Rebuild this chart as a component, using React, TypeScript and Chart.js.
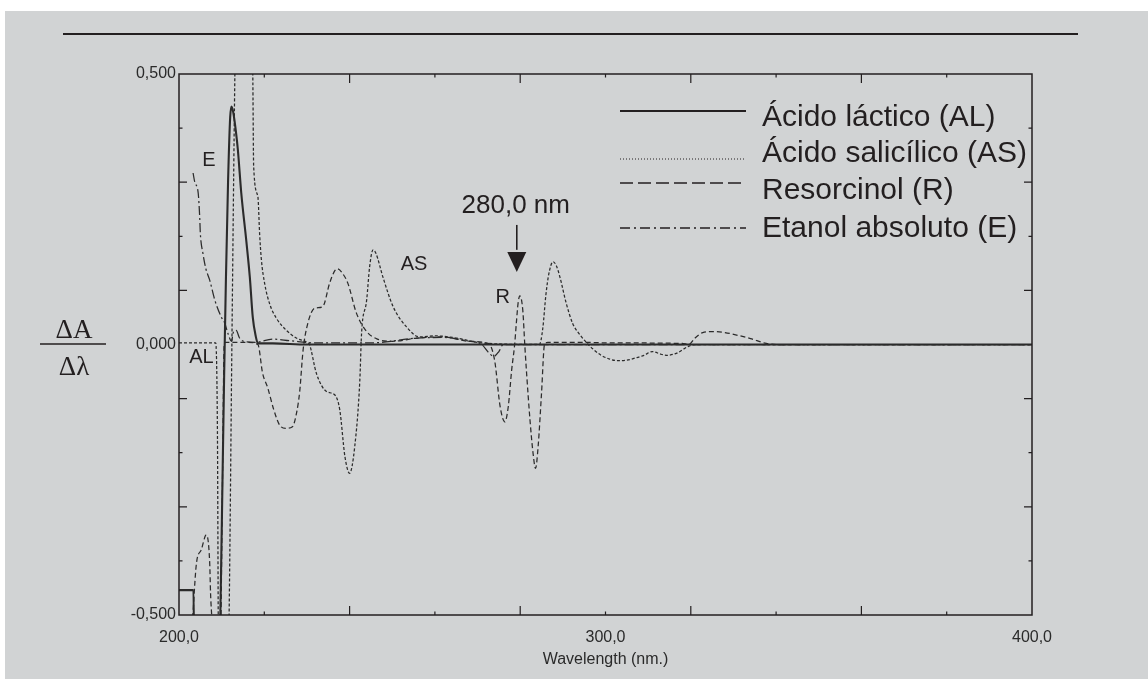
import { useEffect, useRef } from 'react';
import { Chart, registerables } from 'chart.js';

Chart.register(...registerables);

const INK = '#231f20';
const TEXT = '#2a2a2a';
const CURVE = '#2b2b2b';

// Ácido láctico (AL)
const alNm = [200, 203.4, 203.6, 209.4, 209.8, 210.2, 210.6, 211.0, 211.5, 212.0, 212.3, 212.7, 213.4, 213.8, 214.6, 215.8, 216.6, 217.3, 218.0, 218.5, 222, 230, 260, 300, 340, 400];
const alVal = [-0.454, -0.454, -0.6, -0.6, -0.45, -0.25, -0.05, 0.12, 0.3, 0.42, 0.44, 0.43, 0.39, 0.36, 0.28, 0.19, 0.125, 0.05, 0.015, 0.002, 0.002, 0, 0, 0, 0, 0];

// Ácido salicílico (AS)
const asNm = [200, 208.6, 209.0, 209.3, 211.5, 211.75, 212.4, 213.1, 213.3, 217.0, 217.3, 217.5, 218.5, 218.9, 219.3, 220.1, 221.3, 222.8, 225.2, 227.5, 230.0, 230.6, 232.2, 234.6, 236.5, 237.7, 238.9, 240.0, 241.2, 242.4, 242.8, 244.0, 244.7, 245.5, 246.2, 247.8, 250.2, 253.3, 256.4, 260, 265, 270, 275, 284.5, 285.3, 286.0, 286.7, 287.7, 288.5, 289.3, 290.8, 292.3, 294.0, 295.5, 297, 299, 301, 303, 305, 307, 309, 311, 313, 314.3, 316.7, 319.3, 321, 330, 400];
const asVal = [0.003, 0.003, -0.15, -0.6, -0.6, -0.5, 0, 0.5, 0.6, 0.6, 0.5, 0.33, 0.273, 0.205, 0.158, 0.112, 0.074, 0.049, 0.026, 0.012, 0.004, 0, -0.053, -0.087, -0.093, -0.121, -0.207, -0.238, -0.189, -0.066, 0.02, 0.082, 0.144, 0.175, 0.168, 0.125, 0.07, 0.033, 0.014, 0.016, 0.012, 0.004, 0.001, 0, 0.03, 0.09, 0.13, 0.153, 0.145, 0.125, 0.076, 0.039, 0.018, 0.004, -0.008, -0.02, -0.027, -0.03, -0.029, -0.025, -0.02, -0.013, -0.018, -0.02, -0.016, -0.004, 0, 0, 0];

// Resorcinol (R)
const rNm = [203.1, 204.1, 205.2, 206.4, 207.2, 207.4, 207.8, 208.2, 209.6, 210.2, 210.6, 211, 216, 218.5, 219.6, 220.8, 222.2, 223.6, 225.1, 226.6, 227.6, 228.3, 229.1, 230.2, 231.8, 233.7, 235.3, 236.5, 237.2, 238.2, 239.6, 241.6, 244.0, 246.5, 250, 256, 262, 268, 272.5, 274.0, 275.3, 276.4, 277.2, 278.0, 278.7, 279.1, 279.5, 279.9, 280.6, 281.1, 281.5, 282.3, 283.0, 283.6, 284.2, 285.0, 285.7, 286.5, 295, 300, 318, 319.5, 321, 322.8, 325, 328, 331, 334, 337.7, 340, 400];
const rVal = [-0.52, -0.404, -0.38, -0.352, -0.404, -0.46, -0.52, -0.6, -0.6, -0.25, 0, 0.004, 0.004, 0, -0.053, -0.08, -0.12, -0.149, -0.155, -0.152, -0.125, -0.087, -0.01, 0.039, 0.067, 0.07, 0.113, 0.136, 0.14, 0.133, 0.113, 0.058, 0.024, 0.01, 0.006, 0.012, 0.014, 0.006, 0.002, -0.029, -0.115, -0.143, -0.115, -0.047, 0, 0.04, 0.076, 0.09, 0.064, -0.004, -0.053, -0.14, -0.2, -0.229, -0.189, -0.09, 0, 0.004, 0.004, 0.003, 0.002, 0, 0.012, 0.022, 0.024, 0.022, 0.017, 0.011, 0.002, 0, 0];

// Etanol absoluto (E)
const eNm = [203.3, 203.7, 204.5, 204.85, 205.0, 205.6, 206.3, 207.2, 208.4, 209.9, 210.7, 211.5, 212.3, 212.8, 213.4, 214.2, 215.5, 218, 222, 226, 232, 245, 256, 262, 268, 271, 272.5, 273.8, 275, 276, 280, 300, 400];
const eVal = [0.317, 0.3, 0.28, 0.236, 0.206, 0.169, 0.14, 0.119, 0.082, 0.051, 0.04, 0.02, 0.006, 0.024, 0.026, 0.012, 0.005, 0.004, 0.01, 0.007, 0.003, 0.003, 0.012, 0.013, 0.006, 0, -0.014, -0.022, -0.013, 0, 0, 0, 0];

const seriesNames = ['Ácido láctico (AL)', 'Ácido salicílico (AS)', 'Resorcinol (R)', 'Etanol absoluto (E)'];

const xLabelValues = [200, 300, 400];
const yLabelValues = [-0.5, 0, 0.5];
const xTickMarks = [220, 240, 260, 280, 300, 320, 340, 360, 380];
const xLongMarks = [240, 280, 320, 360];
const yTickMarks = [-0.4, -0.3, -0.2, -0.1, 0.1, 0.2, 0.3, 0.4];
const yLongMarks = [-0.3, -0.1, 0.1, 0.3];

const curveLabels = [
  { text: 'E', nm: 207.0, v: 0.34 },
  { text: 'AS', nm: 255.1, v: 0.148 },
  { text: 'R', nm: 275.9, v: 0.087 },
  { text: 'AL', nm: 205.25, v: -0.024 },
];
const markerNm = 279.2;
const markerText = '280,0 nm';

const plotDash = [[], [3, 2], [5, 3], [9, 3, 2, 3]];
const plotWidth = [2.1, 1.25, 1.25, 1.25];
const legendDash = [[], [1, 2], [13, 5], [10, 4, 2, 4]];
const legendLineY = [111, 159, 183, 228];
const legendTextY = [126, 162, 199, 237];

const toPoints = (xs: number[], ys: number[]) => xs.map((x, i) => ({ x, y: ys[i] }));

const decor = {
  id: 'decor',
  afterDatasetsDraw(chart: any) {
    const { ctx, chartArea: a, scales } = chart;
    const x = scales.x;
    const y = scales.y;
    ctx.save();
    ctx.strokeStyle = INK;
    ctx.lineWidth = 1.5;
    ctx.setLineDash([]);
    ctx.strokeRect(a.left, a.top, a.right - a.left, a.bottom - a.top);
    ctx.lineWidth = 1.2;
    ctx.beginPath();
    xTickMarks.forEach((v) => {
      const px = x.getPixelForValue(v);
      const len = xLongMarks.includes(v) ? 9 : 3.5;
      ctx.moveTo(px, a.bottom);
      ctx.lineTo(px, a.bottom - len);
      ctx.moveTo(px, a.top);
      ctx.lineTo(px, a.top + len);
    });
    yTickMarks.forEach((v) => {
      const py = y.getPixelForValue(v);
      const len = yLongMarks.includes(v) ? 8 : 3.5;
      ctx.moveTo(a.left, py);
      ctx.lineTo(a.left + len, py);
      ctx.moveTo(a.right, py);
      ctx.lineTo(a.right - len, py);
    });
    ctx.stroke();

    ctx.fillStyle = INK;
    ctx.font = "20px 'Liberation Sans', Arial, sans-serif";
    ctx.textAlign = 'center';
    ctx.textBaseline = 'middle';
    curveLabels.forEach((l) => {
      ctx.fillText(l.text, x.getPixelForValue(l.nm), y.getPixelForValue(l.v));
    });

    const mx = x.getPixelForValue(markerNm);
    ctx.font = "26px 'Liberation Sans', Arial, sans-serif";
    ctx.textBaseline = 'alphabetic';
    ctx.fillText(markerText, mx - 1, y.getPixelForValue(0.2425));
    ctx.lineWidth = 1.6;
    ctx.beginPath();
    ctx.moveTo(mx, y.getPixelForValue(0.221));
    ctx.lineTo(mx, y.getPixelForValue(0.175));
    ctx.stroke();
    ctx.beginPath();
    ctx.moveTo(mx - 9.5, y.getPixelForValue(0.171));
    ctx.lineTo(mx + 9.5, y.getPixelForValue(0.171));
    ctx.lineTo(mx, y.getPixelForValue(0.134));
    ctx.closePath();
    ctx.fill();

    ctx.textAlign = 'left';
    ctx.font = "30px 'Liberation Sans', Arial, sans-serif";
    seriesNames.forEach((name, i) => {
      ctx.setLineDash(legendDash[i]);
      ctx.lineWidth = i === 0 ? 2 : i === 1 ? 1 : 1.6;
      ctx.beginPath();
      ctx.moveTo(620, legendLineY[i]);
      ctx.lineTo(746, legendLineY[i]);
      ctx.stroke();
      ctx.setLineDash([]);
      ctx.fillText(name, 762, legendTextY[i]);
    });

    ctx.textAlign = 'center';
    ctx.font = "27px 'Liberation Serif', 'Times New Roman', serif";
    ctx.fillText('ΔA', 74, 338);
    ctx.fillText('Δλ', 74, 375);
    ctx.lineWidth = 1.3;
    ctx.beginPath();
    ctx.moveTo(40, 344);
    ctx.lineTo(106, 344);
    ctx.stroke();
    ctx.restore();
  },
};

export default function App() {
  const ref = useRef<HTMLCanvasElement | null>(null);

  useEffect(() => {
    if (!ref.current) return;
    Chart.defaults.font.family = "'Liberation Sans', Arial, Helvetica, sans-serif";
    const sets = [
      toPoints(alNm, alVal),
      toPoints(asNm, asVal),
      toPoints(rNm, rVal),
      toPoints(eNm, eVal),
    ];
    const chart = new Chart(ref.current, {
      type: 'line',
      data: {
        datasets: sets.map((d, i) => ({
          label: seriesNames[i],
          data: d,
          borderColor: CURVE,
          borderWidth: plotWidth[i],
          borderDash: plotDash[i],
          pointRadius: 0,
          fill: false,
          tension: 0.3,
          cubicInterpolationMode: 'monotone',
          clip: 0,
        })),
      },
      options: {
        animation: false,
        responsive: false,
        layout: { padding: { left: 0, right: 116, top: 74, bottom: 0 } },
        plugins: { legend: { display: false }, tooltip: { enabled: false } },
        scales: {
          x: {
            type: 'linear',
            min: 200,
            max: 400,
            grid: { display: false, drawTicks: false },
            border: { display: false },
            afterBuildTicks: (s: any) => {
              s.ticks = xLabelValues.map((v) => ({ value: v }));
            },
            afterFit: (s: any) => {
              s.height = 64;
            },
            ticks: {
              autoSkip: false,
              maxRotation: 0,
              padding: 13,
              color: TEXT,
              font: { size: 16 },
              callback: (v: any) => Number(v).toFixed(1).replace('.', ','),
            },
            title: {
              display: true,
              text: 'Wavelength (nm.)',
              color: TEXT,
              font: { size: 16 },
              padding: { top: 0, bottom: 10 },
            },
          },
          y: {
            type: 'linear',
            min: -0.5,
            max: 0.5,
            grid: { display: false, drawTicks: false },
            border: { display: false },
            afterBuildTicks: (s: any) => {
              s.ticks = yLabelValues.map((v) => ({ value: v }));
            },
            afterFit: (s: any) => {
              s.width = 179;
            },
            ticks: {
              padding: 3,
              color: TEXT,
              font: { size: 16 },
              callback: (v: any) => Number(v).toFixed(3).replace('.', ','),
            },
          },
        },
      },
      plugins: [decor],
    } as any);
    return () => chart.destroy();
  }, []);

  return (
    <div style={{ position: 'fixed', left: 0, top: 0, width: 1148, height: 679, background: '#ffffff', overflow: 'hidden' }}>
      <div style={{ position: 'absolute', left: 5, top: 11, right: 0, bottom: 0, background: '#d1d3d4' }} />
      <div style={{ position: 'absolute', left: 63, top: 33, width: 1015, height: 2, background: INK }} />
      <canvas ref={ref} width={1148} height={679} style={{ position: 'absolute', left: 0, top: 0, display: 'block' }} />
    </div>
  );
}
